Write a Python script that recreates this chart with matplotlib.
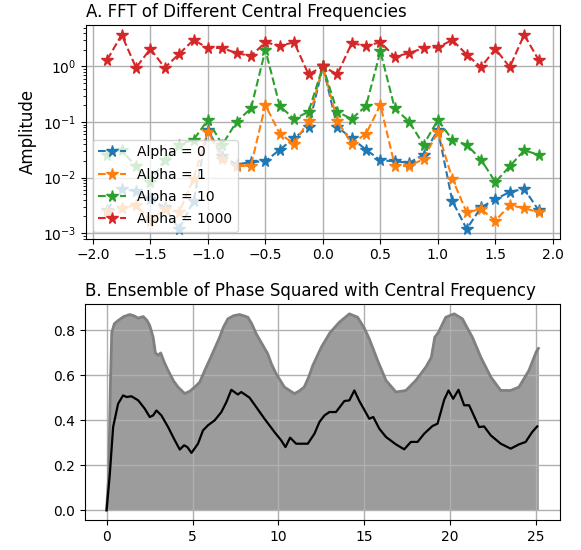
#FFT genlikleri ve faz karesi toplulugu grafigi
import numpy as np
import matplotlib
matplotlib.use("Agg")
import matplotlib.pyplot as plt

#%%
# A paneli: frekans ekseni (-1.875 ... 1.875, 0.125 adim)
freq = np.arange(-15, 16) / 8

amp_a0 = [0.0026, 0.0063, 0.0057, 0.0041, 0.0029, 0.00119, 0.0038, 0.0723,
          0.0242, 0.0172, 0.0190, 0.0197, 0.0318, 0.0514, 0.081, 1.0,
          0.081, 0.0514, 0.0318, 0.0205, 0.0197, 0.0184, 0.0259, 0.0723,
          0.0038, 0.00119, 0.0029, 0.0041, 0.0055, 0.0063, 0.0026]
amp_a1 = [0.0025, 0.0028, 0.0032, 0.00168, 0.00271, 0.00237, 0.0096, 0.0675,
          0.0217, 0.016, 0.0165, 0.202, 0.0614, 0.0407, 0.106, 1.0,
          0.106, 0.0407, 0.0614, 0.202, 0.0165, 0.016, 0.0217, 0.0675,
          0.0096, 0.00237, 0.00271, 0.00168, 0.0032, 0.0028, 0.0024]
amp_a10 = [0.0259, 0.0309, 0.016, 0.0083, 0.0211, 0.039, 0.048, 0.109,
           0.039, 0.1016, 0.176, 1.99, 0.194, 0.1136, 0.153, 1.0,
           0.153, 0.1136, 0.194, 1.87, 0.176, 0.1016, 0.039, 0.109,
           0.048, 0.039, 0.0211, 0.0083, 0.016, 0.0309, 0.0259]
amp_a1000 = [1.32, 3.72, 0.95, 2.07, 0.95, 1.68, 2.99, 2.15,
             2.15, 1.73, 1.55, 2.71, 2.37, 2.71, 0.72, 1.0,
             0.72, 2.60, 2.37, 2.71, 1.51, 1.73, 2.15, 2.21,
             2.99, 1.64, 0.97, 2.07, 0.97, 3.72, 1.32]
etiketler = ["Alpha = 0", "Alpha = 1", "Alpha = 10", "Alpha = 1000"]

# B paneli: gri toplulugun ust zarfi ve ortalama (siyah)
zarf_t = [0, 0.12, 0.22, 0.3, 0.45, 0.67, 1.0, 1.35, 1.6, 1.84, 2.13, 2.35,
          2.51, 2.71, 2.84, 3.0, 3.15, 3.35, 3.58, 3.9, 4.16, 4.55, 4.85,
          5.13, 5.42, 5.7, 6.0, 6.29, 6.58, 6.8, 7.06, 7.4, 7.74, 8.0, 8.22,
          8.45, 8.71, 9.05, 9.38, 9.6, 9.87, 10.35, 10.93, 11.2, 11.5, 11.75,
          12.0, 12.5, 13.0, 13.55, 14.13, 14.61, 15.0, 15.29, 15.77, 16.26,
          16.84, 17.42, 18.0, 18.58, 18.9, 19.1, 19.3, 19.74, 20.23, 20.71,
          21.0, 21.29, 21.78, 22.36, 22.94, 23.52, 24.0, 24.58, 25.0, 25.13]
zarf_v = [0, 0.15, 0.55, 0.79, 0.83, 0.844, 0.862, 0.871, 0.865, 0.855,
          0.862, 0.845, 0.822, 0.77, 0.70, 0.69, 0.70, 0.66, 0.622, 0.575,
          0.548, 0.519, 0.53, 0.548, 0.57, 0.62, 0.67, 0.72, 0.77, 0.815,
          0.852, 0.866, 0.871, 0.865, 0.859, 0.83, 0.785, 0.74, 0.696, 0.65,
          0.607, 0.548, 0.519, 0.53, 0.548, 0.59, 0.644, 0.726, 0.79, 0.837,
          0.874, 0.859, 0.81, 0.763, 0.667, 0.578, 0.526, 0.533, 0.578,
          0.637, 0.68, 0.77, 0.79, 0.859, 0.874, 0.852, 0.81, 0.77, 0.681,
          0.593, 0.533, 0.533, 0.548, 0.622, 0.704, 0.72]

ort_t = [0, 0.19, 0.38, 0.67, 0.96, 1.16, 1.45, 1.84, 2.22, 2.51, 2.71, 2.9,
         3.19, 3.58, 3.97, 4.26, 4.51, 4.7, 4.94, 5.32, 5.61, 5.9, 6.29,
         6.68, 6.97, 7.26, 7.64, 7.84, 8.32, 8.71, 9.19, 9.77, 10.16, 10.41,
         10.68, 11.03, 11.71, 12.1, 12.39, 12.68, 12.97, 13.35, 13.84, 14.13,
         14.42, 14.71, 15.29, 15.52, 15.87, 16.26, 16.84, 17.32, 17.71, 18.1,
         18.49, 18.97, 19.26, 19.65, 19.9, 20.17, 20.48, 20.81, 21.1, 21.68,
         21.97, 22.36, 22.94, 23.52, 24.0, 24.39, 24.77, 25.06]
ort_v = [0, 0.163, 0.37, 0.474, 0.511, 0.504, 0.507, 0.489, 0.452, 0.415,
         0.422, 0.444, 0.422, 0.37, 0.311, 0.27, 0.289, 0.281, 0.255, 0.296,
         0.355, 0.378, 0.40, 0.437, 0.481, 0.536, 0.515, 0.526, 0.501, 0.459,
         0.407, 0.348, 0.311, 0.281, 0.323, 0.296, 0.296, 0.341, 0.393,
         0.422, 0.437, 0.437, 0.486, 0.489, 0.533, 0.486, 0.407, 0.415,
         0.363, 0.326, 0.293, 0.271, 0.304, 0.304, 0.341, 0.375, 0.385,
         0.492, 0.533, 0.496, 0.536, 0.467, 0.467, 0.37, 0.373, 0.333, 0.296,
         0.274, 0.293, 0.304, 0.348, 0.373]

#%%
fig = plt.figure(figsize=(5.81, 5.5), dpi=100)
ax1 = fig.add_axes([0.1475, 0.566, 0.8165, 0.3885])
ax2 = fig.add_axes([0.1463, 0.0545, 0.8175, 0.3927])

for seri, etiket in zip([amp_a0, amp_a1, amp_a10, amp_a1000], etiketler):
    ax1.semilogy(freq, seri, "--*", markersize=8.5, label=etiket)
ax1.set_title("A. FFT of Different Central Frequencies", loc="left", fontsize=12)
ax1.set_ylabel("Amplitude", fontsize=12)
ax1.grid(True, linewidth=1)
ax1.legend(loc="lower left", labelspacing=0.6)

ax2.fill_between(zarf_t, 0, zarf_v, color="gray", alpha=0.78, linewidth=0)
ax2.plot(zarf_t, zarf_v, color="gray", linewidth=2)
ax2.plot(ort_t, ort_v, color="black", linewidth=1.6)
ax2.set_title("B. Ensemble of Phase Squared with Central Frequency", loc="left", fontsize=12)
ax2.grid(True, linewidth=1)

plt.savefig("out.png")
